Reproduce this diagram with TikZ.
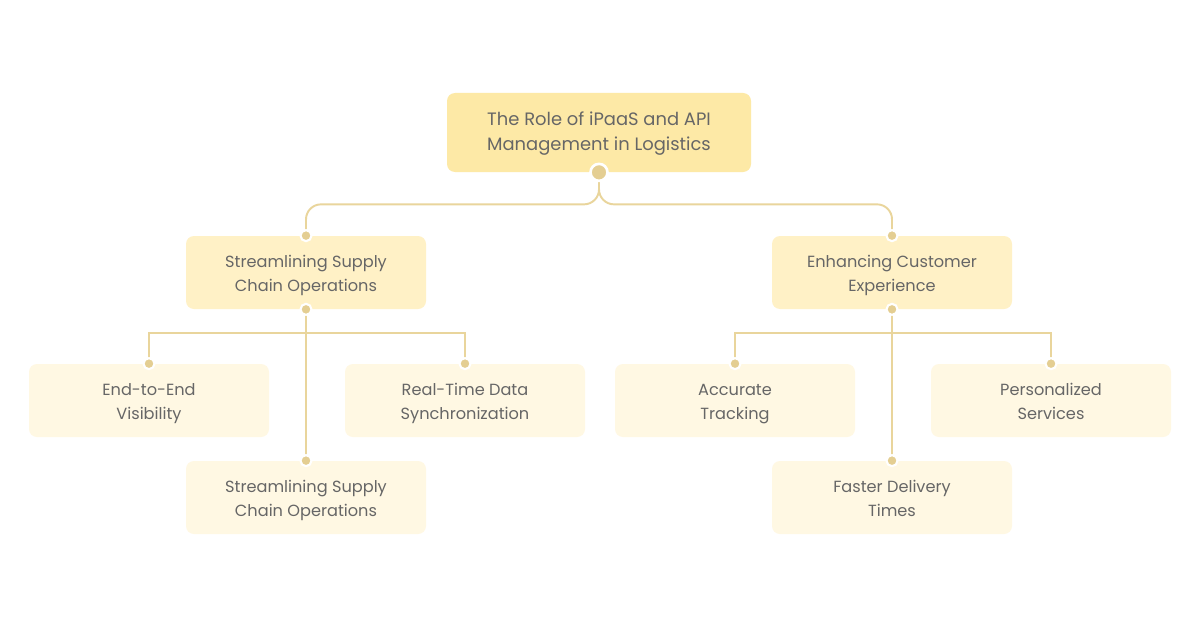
\documentclass[tikz,border=0pt]{standalone}
\usepackage{fontspec}
\setmainfont{Poppins}
\definecolor{rootfill}{HTML}{FDE9A6}
\definecolor{midfill}{HTML}{FFF1C6}
\definecolor{leaffill}{HTML}{FFF8E3}
\definecolor{linkcol}{HTML}{E9D59C}
\definecolor{dotcol}{HTML}{E4CE92}
\definecolor{txtcol}{HTML}{666666}
\tikzset{
  box/.style={rounded corners=0.16cm, align=center, text=txtcol, inner sep=0pt},
  rootbox/.style={box, fill=rootfill, minimum width=6.08cm, minimum height=1.58cm,
    font=\fontsize{10.2}{14}\selectfont, text height=24.6pt, text depth=4.2pt},
  midbox/.style={box, fill=midfill, minimum width=4.8cm, minimum height=1.46cm,
    font=\fontsize{9.2}{13.6}\selectfont, text height=25.3pt, text depth=4.1pt},
  leafbox/.style={midbox, fill=leaffill},
  link/.style={draw=linkcol, line width=1.1pt},
  dot/.style={circle, fill=dotcol, draw=white, line width=1.2pt, minimum size=0.22cm, inner sep=0pt},
  bigdot/.style={dot, minimum size=0.34cm, line width=1.5pt}
}
\begin{document}
\begin{tikzpicture}
  \useasboundingbox[fill=white] (0,0) rectangle (24,-12.56);
  % boxes
  \node[rootbox] (root) at (11.98,-2.65) {The Role of iPaaS and API\\Management in Logistics};
  \node[midbox] (supply) at (6.12,-5.45) {Streamlining Supply\\Chain Operations};
  \node[midbox] (customer) at (17.84,-5.45) {Enhancing Customer\\Experience};
  \node[leafbox] (visibility) at (2.98,-8.01) {End-to-End\\Visibility};
  \node[leafbox] (realtime) at (9.30,-8.01) {Real-Time Data\\Synchronization};
  \node[leafbox] (chainops) at (6.12,-9.95) {Streamlining Supply\\Chain Operations};
  \node[leafbox] (tracking) at (14.70,-8.01) {Accurate\\Tracking};
  \node[leafbox] (personal) at (21.02,-8.01) {Personalized\\Services};
  \node[leafbox] (delivery) at (17.84,-9.95) {Faster Delivery\\Times};
  % connectors
  \draw[link, rounded corners=0.3cm] (root.south) -- ++(0,-0.64) -| (supply.north);
  \draw[link, rounded corners=0.3cm] (root.south) -- ++(0,-0.64) -| (customer.north);
  \draw[link] (supply.south) -- ++(0,-0.48) -| (visibility.north);
  \draw[link] (supply.south) -- ++(0,-0.48) -| (realtime.north);
  \draw[link] (supply.south) -- (chainops.north);
  \draw[link] (customer.south) -- ++(0,-0.48) -| (tracking.north);
  \draw[link] (customer.south) -- ++(0,-0.48) -| (personal.north);
  \draw[link] (customer.south) -- (delivery.north);
  % dots
  \node[bigdot] at (root.south) {};
  \foreach \n in {supply, customer}
    \node[dot] at (\n.north) {};
  \foreach \n in {supply, customer}
    \node[dot] at (\n.south) {};
  \foreach \n in {visibility, realtime, chainops, tracking, personal, delivery}
    \node[dot] at (\n.north) {};
\end{tikzpicture}
\end{document}
